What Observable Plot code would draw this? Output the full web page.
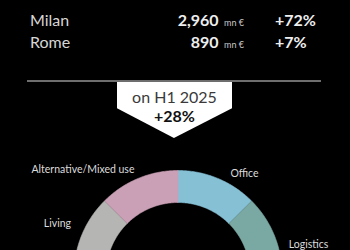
<!DOCTYPE html>
<html>
<head>
<meta charset="utf-8">
<script src="https://cdn.jsdelivr.net/npm/d3@7"></script>
<script src="https://cdn.jsdelivr.net/npm/@observablehq/plot@0.6"></script>
<style>
  html, body { margin: 0; padding: 0; }
  body { width: 350px; height: 250px; background: #000; overflow: hidden; position: relative; font-family: Lato, "Open Sans", sans-serif; }
  .abs { position: absolute; white-space: nowrap; line-height: 1; }
  #chart { position: absolute; left: 0; top: 0; z-index: 0; }
  #kpi { position: absolute; left: 0; top: 0; width: 350px; height: 250px; z-index: 1; }
  .city { color: #d6d6d6; font-size: 16px; }
  .val { color: #eeeeee; font-size: 16px; font-weight: 700; text-align: right; }
  .unit { color: #c8c8c8; font-size: 9px; }
  .chg { color: #eeeeee; font-size: 16px; font-weight: 700; }
  #rule { position: absolute; left: 27px; top: 80px; width: 294px; height: 2px; background: #6e6e6e; }
  #callout { position: absolute; left: 117px; top: 82px; width: 115px; height: 56px; background: #fff;
    clip-path: polygon(0 0, 100% 0, 100% 47%, 49.5% 100%, 0 47%); }
  .c1 { color: #3a3a3a; font-size: 16px; width: 115px; text-align: center; }
  .c2 { color: #111; font-size: 16px; font-weight: 700; width: 115px; text-align: center; }
</style>
</head>
<body>
<div id="chart"></div>
<div id="kpi"></div>
<script>
// ---- data ----
const cities = ["Milan", "Rome"];
const volumes = [2960, 890];          // mn €
const changes = ["+72%", "+7%"];
const unitLabel = "mn €";
const periodLabel = "on H1 2025";
const totalChange = "+28%";

const sectors = ["Office", "Logistics", "Retail", "Hospitality", "Living", "Alternative/Mixed use"];
const shares  = [12.5, 18, 11, 34, 12, 12.5];   // % of volume (lower part estimated, out of view)
const sectorColors = ["#86c0d5", "#7aa8a2", "#8f8f8f", "#5f7f99", "#b5b6b4", "#c9a0b5"];

// ---- top KPI block (HTML) ----
const kpi = document.getElementById("kpi");
const fmt = d3.format(",");
const rowBaselines = [26, 47.7];
cities.forEach((c, i) => {
  const b = rowBaselines[i];
  const add = (cls, text, style) => {
    const el = document.createElement("div");
    el.className = "abs " + cls;
    el.textContent = text;
    Object.assign(el.style, style);
    kpi.appendChild(el);
  };
  add("city", c, { left: "30px", top: (b - 0.887 * 16) + "px" });
  add("val", fmt(volumes[i]), { right: (350 - 218.5) + "px", top: (b - 0.887 * 16) + "px" });
  add("unit", unitLabel, { left: "224px", top: (b - 0.887 * 9) + "px" });
  add("chg", changes[i], { left: "275px", top: (b - 0.887 * 16) + "px" });
});
const rule = document.createElement("div"); rule.id = "rule"; kpi.appendChild(rule);
const callout = document.createElement("div"); callout.id = "callout"; kpi.appendChild(callout);
const t1 = document.createElement("div"); t1.className = "abs c1"; t1.textContent = periodLabel;
t1.style.left = "0px"; t1.style.top = (103 - 82 - 0.887 * 16) + "px"; callout.appendChild(t1);
const t2 = document.createElement("div"); t2.className = "abs c2"; t2.textContent = totalChange;
t2.style.left = "0px"; t2.style.top = (121.7 - 82 - 0.887 * 16) + "px"; callout.appendChild(t2);

// ---- donut (Plot) ----
const R_OUT = 104, R_IN = 72;
const pts = [];
let cum = 0;
const total = d3.sum(shares);
sectors.forEach((s, i) => {
  const a0 = cum / total * 2 * Math.PI;
  cum += shares[i];
  const a1 = cum / total * 2 * Math.PI;
  const n = 60;
  for (let k = 0; k <= n; k++) {
    const a = a0 + (a1 - a0) * k / n;
    pts.push({ sector: s, X: R_OUT * Math.sin(a), Y: R_OUT * Math.cos(a) });
  }
  for (let k = n; k >= 0; k--) {
    const a = a0 + (a1 - a0) * k / n;
    pts.push({ sector: s, X: R_IN * Math.sin(a), Y: R_IN * Math.cos(a) });
  }
});

// label placement (angle from top in degrees, radius from donut center);
// sectors lying below the visible frame get no label
const labelLayout = {
  "Office": [33.5, 120.5],
  "Logistics": [77.3, 133.8],
  "Living": [-67.1, 130.9],
  "Alternative/Mixed use": [-42.3, 141.2]
};
const labels = sectors.filter(s => labelLayout[s]).map(s => {
  const [deg, r] = labelLayout[s];
  const a = deg * Math.PI / 180;
  return { sector: s, X: r * Math.sin(a), Y: r * Math.cos(a) };
});

const chart = Plot.plot({
  width: 350,
  height: 250,
  margin: 0,
  style: { background: "transparent", color: "#dcdcdc", fontFamily: "Lato, sans-serif" },
  x: { domain: [-177.5, 172.5], axis: null },
  y: { domain: [24, 274], axis: null },
  color: { domain: sectors, range: sectorColors },
  marks: [
    Plot.line(pts, { x: "X", y: "Y", z: "sector", fill: "sector", stroke: "sector", strokeWidth: 0.6, curve: "linear", clip: true }),
    Plot.text(labels, { x: "X", y: "Y", text: "sector", fill: "#dcdcdc", fontSize: 10.5, textAnchor: "middle" })
  ]
});
document.getElementById("chart").appendChild(chart);
</script>
</body>
</html>
